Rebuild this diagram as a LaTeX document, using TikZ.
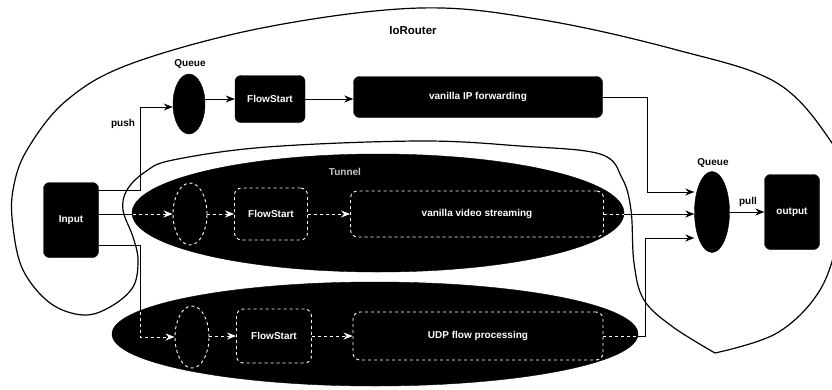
\documentclass[tikz,border=0pt]{standalone}
\usepackage{fontspec}
\setmainfont{Liberation Sans}
\usetikzlibrary{arrows.meta,shapes.geometric}
\begin{document}
\begin{tikzpicture}[x=1pt,y=-1pt,
 font=\fontsize{10}{12}\selectfont\bfseries,
 blk/.style={fill=black,text=white,rounded corners=6pt,draw=black,inner sep=2pt},
 qb/.style={ellipse,fill=black,draw=black,inner sep=0pt},
 zone/.style={ellipse,fill=black,draw=black,inner sep=0pt},
 dbox/.style={fill=black,text=white,rounded corners=7pt,draw=white,dashed,line width=0.9pt,inner sep=2pt},
 dq/.style={ellipse,fill=black,draw=white,dashed,line width=0.9pt,inner sep=0pt},
 arr/.style={-{Stealth[length=9pt,width=7pt]},line width=0.9pt},
 wline/.style={white,dashed,line width=0.9pt},
 warr/.style={arr,white,dashed},
]
\useasboundingbox (0,0) rectangle (832,389);
\fill[white] (0,0) rectangle (832,389);
\clip (0,0) rectangle (832,389);

% IoRouter blob
\draw[line width=1.2pt, fill=white] plot[smooth, tension=0.6] coordinates {(715,353) (777,333) (820,290) (840,230) (845,180) (832,143) (777,83) (677,50) (543,20) (420,8) (267,27) (133,63) (67,100) (27,150) (13,190) (13,227) (23,270) (50,303) (83,315) (110,307) (133,287) (138,260) (133,237) (123,210) (127,190) (145,172) (173,160) (267,147) (420,141) (520,146) (600,154) (622,178) (631,210) (634,263) (644,300) (673,327) (715,353)};
\node[font=\fontsize{11.5}{13}\selectfont\bfseries] (title) at (413,31) {IoRouter};

% flow zones
\node[zone, minimum width=492pt, minimum height=118pt] (vidzone) at (378,213) {};
\node[zone, minimum width=526pt, minimum height=104pt] (udpzone) at (375,334) {};
\node[text=gray!45] (tunl) at (345,172) {Tunnel};

% main nodes
\node[blk, minimum width=55pt, minimum height=75pt] (input) at (71,220) {Input};
\node[qb, minimum width=32pt, minimum height=60pt] (q1) at (189,104) {};
\node (q1l) at (190,64) {Queue};
\node[blk, minimum width=70pt, minimum height=47pt] (fs1) at (270,99) {FlowStart};
\node[blk, minimum width=249pt, minimum height=41pt] (ipf) at (478,97) {vanilla IP forwarding};
\node[qb, minimum width=35pt, minimum height=81pt] (q2) at (712,212) {};
\node (q2l) at (713,163) {Queue};
\node[blk, minimum width=55pt, minimum height=75pt] (out) at (792,212) {output};

% video flow nodes
\node[dq, minimum width=34pt, minimum height=62pt] (vq) at (190,214) {};
\node[dbox, minimum width=73pt, minimum height=52pt] (vfs) at (271,214) {FlowStart};
\node[dbox, minimum width=253pt, minimum height=46pt] (vbox) at (477,214) {vanilla video streaming};

% udp flow nodes
\node[dq, minimum width=34pt, minimum height=62pt] (lq) at (192,337) {};
\node[dbox, minimum width=75pt, minimum height=54pt] (lfs) at (274,336) {FlowStart};
\node[dbox, minimum width=250pt, minimum height=48pt] (lbox) at (478,336) {UDP flow processing};

% coordinates
\coordinate (pA) at (140,190);
\coordinate (pB) at (140,107);
\coordinate (mA) at (133,214);
\coordinate (bA) at (140,245);
\coordinate (bB) at (140,312);
\coordinate (bC) at (140,337);
\coordinate (tA) at (647,97);
\coordinate (tB) at (647,192);
\coordinate (vR) at (624,214);
\coordinate (lR) at (637,336);
\coordinate (lS) at (645,336);
\coordinate (lT) at (645,238);

% top path
\draw[arr] (input.east |- pA) -- (pA) -- (pB) -- (pB -| q1.west);
\node (pushl) at (123,124) {push};
\draw[arr] (q1.east |- fs1.west) -- (fs1.west);
\draw[arr] (fs1.east) -- (fs1.east -| ipf.west);
\draw[arr] (ipf.east |- tA) -- (tA) -- (tB) -- (q2.west |- tB);

% middle path
\draw[line width=0.9pt] (input.east |- mA) -- (mA);
\draw[warr] (mA) -- (vq.west);
\draw[warr] (vq.east) -- (vfs.west);
\draw[warr] (vfs.east) -- (vbox.west);
\draw[wline] (vbox.east) -- (vR);
\draw[arr] (vR) -- (q2.west |- vR);

% bottom path
\draw[line width=0.9pt] (input.east |- bA) -- (bA) -- (bB);
\draw[warr] (bB) -- (bC) -- (lq.west);
\draw[warr] (lq.east |- lfs.west) -- (lfs.west);
\draw[warr] (lfs.east) -- (lbox.west);
\draw[wline] (lbox.east) -- (lR);
\draw[arr] (lR) -- (lS) -- (lT) -- (q2.west |- lT);

% pull
\draw[arr] (q2.east) -- (out.west);
\node (pulll) at (748,202) {pull};
\end{tikzpicture}
\end{document}
